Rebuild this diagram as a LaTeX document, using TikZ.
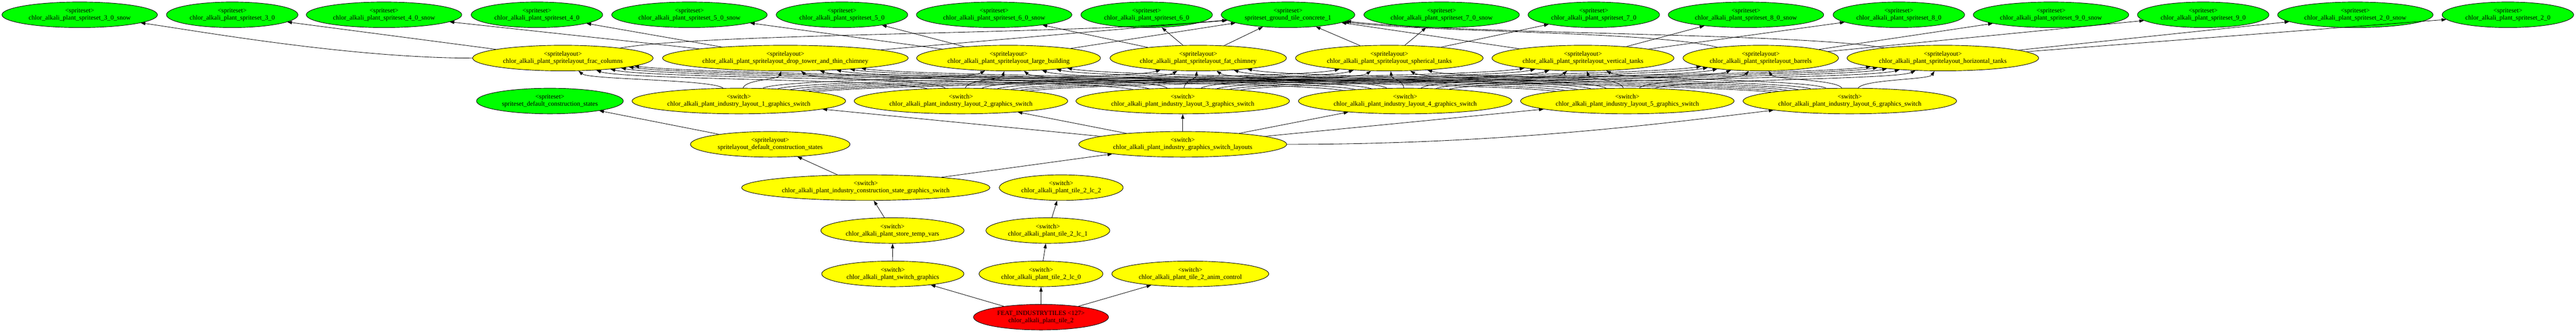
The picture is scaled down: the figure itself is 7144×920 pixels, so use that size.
\documentclass[tikz,border=0pt]{standalone}
\usepackage{fontspec}
\setmainfont{Liberation Serif}
\usetikzlibrary{shapes.geometric,arrows.meta}
\definecolor{ssgreen}{RGB}{0,255,0}
\definecolor{slyellow}{RGB}{255,255,0}
\definecolor{featred}{RGB}{255,0,0}
\newcommand\chl{chlor\_alkali\_plant\_}
\tikzset{
  gv/.style={ellipse, draw, line width=1.3pt, minimum height=71pt, inner xsep=11pt, inner ysep=0pt, align=center, font=\fontsize{18}{20}\selectfont},
  sset/.style={gv, fill=ssgreen},
  slay/.style={gv, fill=slyellow},
  feat/.style={gv, fill=featred},
}
\begin{document}
\begin{tikzpicture}[x=1pt, y=-1pt, line width=1.2pt, line join=round, >={Triangle[length=13pt,width=9pt]}]
	\def\ya{41} \def\yb{161} \def\yc{280} \def\yd{400} % rows
	\def\ye{520} \def\yf{639} \def\yg{759} \def\yh{879}
	\useasboundingbox (0,0) rectangle (7144,920);
	% spritesets
	\foreach \n/\x/\t in {ss3s/221/3\_0\_snow, ss3/644/3\_0, ss4s/1065/4\_0\_snow, ss4/1489/4\_0, ss5s/1912/5\_0\_snow, ss5/2335/5\_0, ss6s/2757/6\_0\_snow, ss6/3180/6\_0, ss7s/3998/7\_0\_snow, ss7/4420/7\_0, ss8s/4842/8\_0\_snow, ss8/5266/8\_0, ss9s/5688/9\_0\_snow, ss9/6110/9\_0, ss2s/6532/2\_0\_snow, ss2/6955/2\_0}
		\node[sset] (\n) at (\x,\ya) {<spriteset>\\\chl spriteset\_\t};
	\node[sset] (gtile) at (3572,\ya) {<spriteset>\\spriteset\_ground\_tile\_concrete\_1};
	% spritelayouts
	\foreach \n/\x/\t in {frac/1561/frac\_columns, drop/2178/drop\_tower\_and\_thin\_chimney, large/2797/large\_building, fat/3323/fat\_chimney, spher/3853/spherical\_tanks, vert/4390/vertical\_tanks, barrels/4883/barrels, horiz/5388/horizontal\_tanks}
		\node[slay] (\n) at (\x,\yb) {<spritelayout>\\\chl spritelayout\_\t};
	% layout switches
	\node[sset] (ssdef) at (1525,\yc) {<spriteset>\\spriteset\_default\_construction\_states};
	\foreach \i/\x in {1/2049, 2/2665, 3/3280, 4/3897, 5/4513, 6/5130}
		\node[slay] (lay\i) at (\x,\yc) {<switch>\\\chl industry\_layout\_\i\_graphics\_switch};
	\node[slay] (sldef) at (2136,\yd) {<spritelayout>\\spritelayout\_default\_construction\_states};
	\node[slay] (layouts) at (3280,\yd) {<switch>\\\chl industry\_graphics\_switch\_layouts};
	\node[slay] (cons) at (2401,\ye) {<switch>\\\chl industry\_construction\_state\_graphics\_switch};
	\node[slay] (lc2) at (2943,\ye) {<switch>\\\chl tile\_2\_lc\_2};
	\node[slay] (temp) at (2475,\yf) {<switch>\\\chl store\_temp\_vars};
	\node[slay] (lc1) at (2906,\yf) {<switch>\\\chl tile\_2\_lc\_1};
	\node[slay] (swgfx) at (2476,\yg) {<switch>\\\chl switch\_graphics};
	\node[slay] (lc0) at (2887,\yg) {<switch>\\\chl tile\_2\_lc\_0};
	\node[slay] (anim) at (3301,\yg) {<switch>\\\chl tile\_2\_anim\_control};
	\node[feat] (tile2) at (2887,\yh) {FEAT\_INDUSTRYTILES <127>\\\chl tile\_2};
	% edges
	\foreach \a/\b in {frac/ss3, drop/ss4s, drop/ss4, large/ss5s, large/ss5, fat/ss6s, fat/ss6, spher/ss7s, spher/ss7, vert/ss8s, vert/ss8, barrels/ss9s, barrels/ss9, horiz/ss2s, horiz/ss2, drop/gtile, large/gtile, fat/gtile, spher/gtile, vert/gtile, sldef/ssdef}
		\draw[->] (\a) -- (\b);
	\draw[->] (frac) .. controls +(-600,0) and +(300,40) .. (ss3s);
	\draw[->] (frac) .. controls +(400,-70) and +(-600,55) .. (gtile);
	\draw[->] (barrels) .. controls +(-300,-75) and +(400,50) .. (gtile);
	\draw[->] (horiz) .. controls +(-400,-70) and +(500,55) .. (gtile);
	\foreach \l/\lx in {lay1/2049, lay2/2665, lay3/3280, lay4/3897, lay5/4513, lay6/5130}
		\foreach \s/\sx in {frac/1561, drop/2178, large/2797, fat/3323, spher/3853, vert/4390, barrels/4883, horiz/5388}{
			\pgfmathsetmacro\dd{0.15*(\sx-\lx)}
			\draw[->] (\l) .. controls +(\dd,-60) and +(-\dd,60) .. (\s);
		}
	\foreach \i in {1,...,5}
		\draw[->] (layouts) -- (lay\i);
	\draw[->] (layouts) .. controls +(900,0) and +(-500,60) .. (lay6);
	\draw[->] (cons) -- (sldef);
	\draw[->] (cons) -- (layouts);
	\draw[->] (temp) -- (cons);
	\draw[->] (swgfx) -- (temp);
	\draw[->] (lc0) -- (lc1);
	\draw[->] (lc1) -- (lc2);
	\draw[->] (tile2) -- (swgfx);
	\draw[->] (tile2) -- (lc0);
	\draw[->] (tile2) -- (anim);
\end{tikzpicture}
\end{document}
